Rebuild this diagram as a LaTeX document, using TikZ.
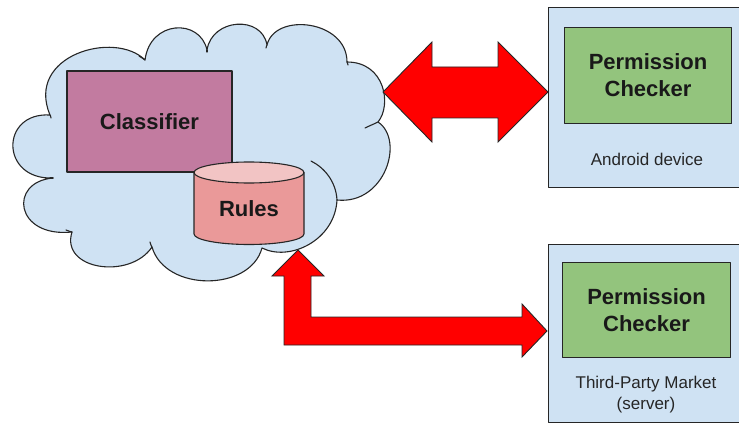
\documentclass[tikz,border=0pt]{standalone}
\usepackage{fontspec}
\setmainfont{Liberation Sans}
\definecolor{cloudblue}{HTML}{CFE2F3}
\definecolor{classpink}{HTML}{C27BA0}
\definecolor{rulesred}{HTML}{EA9999}
\definecolor{rulestop}{HTML}{F2C4C4}
\definecolor{checkgreen}{HTML}{93C47D}
\definecolor{arrowred}{HTML}{FF0000}
\tikzset{
  outline/.style={draw=black!85, line width=1.1pt, line join=round},
  boxtitle/.style={font=\fontsize{22}{27}\selectfont\bfseries, align=center, text=black!90},
  boxlabel/.style={font=\fontsize{17}{21}\selectfont, align=center, text=black!85},
  blockarrow/.style={fill=arrowred, draw=black!85, line width=0.9pt, line join=miter},
  tail/.style={draw=black!85, line width=1.1pt, line cap=round}
}
\begin{document}
\begin{tikzpicture}[x=1pt, y=-1pt]
\useasboundingbox (0,0) rectangle (739,425);
\clip (0,0) rectangle (739,425);
% cloud
\path[outline, fill=cloudblue]
  (50,115) .. controls (0,112) and (0,180) .. (53,178)
  .. controls (8,182) and (15,238) .. (72,232)
  .. controls (60,270) and (130,280) .. (152,247)
  .. controls (165,292) and (250,292) .. (262,248)
  .. controls (290,262) and (335,240) .. (337,200)
  .. controls (385,205) and (405,140) .. (378,122)
  .. controls (392,105) and (385,62) .. (347,62)
  .. controls (347,20) and (275,12) .. (267,45)
  .. controls (262,15) and (212,18) .. (207,50)
  .. controls (200,18) and (150,20) .. (145,60)
  .. controls (115,30) and (25,55) .. (50,115) -- cycle;
% cloud tails
\draw[tail] (337,200) .. controls (336,182) and (325,168) .. (311,161);
\draw[tail] (378,122) .. controls (374,124) and (369,126) .. (365,128);
\draw[tail] (347,62) .. controls (348,63) and (348,64) .. (348,65);
\draw[tail] (267,45) .. controls (267,45) and (266,47) .. (266,48);
\draw[tail] (207,50) .. controls (207,50) and (207,51) .. (207,52);
\draw[tail] (145,60) .. controls (144,59) and (142,58) .. (139,56);
\draw[tail] (50,115) .. controls (50,114) and (51,117) .. (51,118);
\draw[tail] (53,178) .. controls (52,178) and (51,178) .. (50,178);
\draw[tail] (72,232) .. controls (71,232) and (69,231) .. (66,230);
\draw[tail] (152,247) .. controls (151,246) and (151,245) .. (150,242);
% classifier
\node[outline, fill=classpink, minimum width=165pt, minimum height=101pt, inner sep=0pt, boxtitle] (classifier) at (149.5,121.5) {Classifier};
% rules cylinder
\path[outline, fill=rulesred] (194,172.5) -- (194,234)
  arc[start angle=180, end angle=360, x radius=55pt, y radius=10.5pt]
  -- (304,172.5) -- cycle;
\path[outline, fill=rulestop] (249,172.5) ellipse[x radius=55pt, y radius=10.5pt];
\node[boxtitle] (rules) at (249,209) {Rules};
% right boxes
\node[outline, fill=cloudblue, minimum width=200pt, minimum height=180pt, inner sep=0pt, anchor=north west] (device) at (548,7) {};
\node[outline, fill=checkgreen, minimum width=167pt, minimum height=96pt, inner sep=0pt, anchor=north west, boxtitle] (check1) at (564,27) {Permission\\Checker};
\node[boxlabel] (devlabel) at (647,159) {Android device};
\node[outline, fill=cloudblue, minimum width=200pt, minimum height=178pt, inner sep=0pt, anchor=north west] (market) at (548,244) {};
\node[outline, fill=checkgreen, minimum width=168pt, minimum height=95pt, inner sep=0pt, anchor=north west, boxtitle] (check2) at (562,262) {Permission\\Checker};
\node[boxlabel] (marketlabel) at (646,395) {Third-Party Market\\(server)};
% block arrows
\coordinate (a1l) at (383,92);
\coordinate (a1r) at (548,92);
\path[blockarrow] (a1l) -- (432,42) -- (432,67) -- (498,67) -- (498,42) -- (a1r)
  -- (498,142) -- (498,118) -- (432,118) -- (432,142) -- cycle;
\coordinate (a2t) at (298,250);
\coordinate (a2r) at (547,331);
\path[blockarrow] (a2t) -- (324,276) -- (311,276) -- (311,317) -- (522,317) -- (522,304)
  -- (a2r) -- (522,357) -- (522,345) -- (284,345) -- (284,276) -- (272,276) -- cycle;
\end{tikzpicture}
\end{document}
